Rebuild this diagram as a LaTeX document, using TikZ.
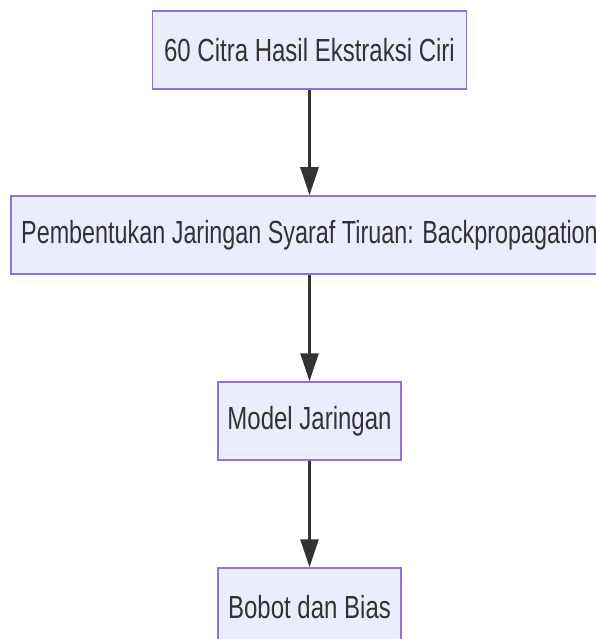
\documentclass[tikz,border=0pt]{standalone}
\usepackage{fontspec}
\setmainfont{Liberation Sans}[FakeStretch=0.75]
\newfontfamily\narrowerfont{Liberation Sans}[FakeStretch=0.73]
\usetikzlibrary{arrows.meta}
\definecolor{boxfill}{HTML}{ECECFF}
\definecolor{boxline}{HTML}{9370DB}
\definecolor{ink}{HTML}{333333}
\begin{document}
\begin{tikzpicture}[x=1pt,y=-1pt,
  flowbox/.style={draw=boxline,fill=boxfill,line width=1.5pt,minimum height=78pt,
    inner sep=0pt,text=ink,font=\fontsize{32}{36}\selectfont},
  flowarrow/.style={draw=ink,line width=2.5pt,-{Triangle[length=28pt,width=18pt]}}]
\useasboundingbox (0,0) rectangle (596,639);
\begin{scope}
\clip (0,0) rectangle (596,639);
\node[flowbox,minimum width=314pt] (a) at (309.5,50) {60 Citra Hasil Ekstraksi Ciri};
\node[flowbox,minimum width=597pt,font=\narrowerfont\fontsize{32}{36}\selectfont] (b) at (309.5,235) {Pembentukan Jaringan Syaraf Tiruan: Backpropagation};
\node[flowbox,minimum width=183pt] (c) at (309.5,421) {Model Jaringan};
\node[flowbox,minimum width=183pt] (d) at (309.5,607) {Bobot dan Bias};
\draw[flowarrow] (a.south) -- (b.north);
\draw[flowarrow] (b.south) -- (c.north);
\draw[flowarrow] (c.south) -- (d.north);
\end{scope}
\end{tikzpicture}
\end{document}
